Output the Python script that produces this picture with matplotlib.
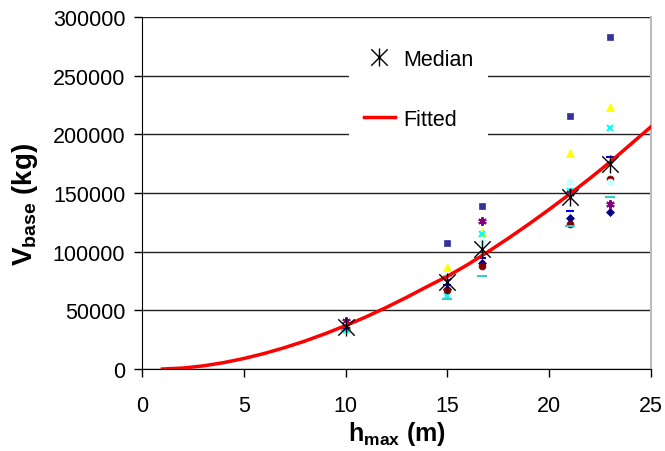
import numpy as np
import matplotlib
matplotlib.use("Agg")
import matplotlib.pyplot as plt
from matplotlib.path import Path

plt.rcParams['font.family'] = ['Liberation Sans', 'DejaVu Sans']
plt.rcParams['mathtext.fontset'] = 'custom'
plt.rcParams['mathtext.rm'] = 'Liberation Sans'
plt.rcParams['mathtext.bf'] = 'Liberation Sans:bold'

# heights where the buildings were evaluated
h_max = [10, 15, 16.7, 21, 23]

# individual records (one list per series)
navy_diamond = [35000, 68000, 90000, 129000, 134000]
blue_square = [37000, 107000, 139000, 216000, 283000]
yellow_tri = [38000, 87000, 117000, 184000, 223000]
cyan_x = [33000, 62000, 115000, 152000, 205000]
purple_star = [41000, 78000, 126000, 150000, 141000]
brown_circle = [36000, 67000, 88000, 124000, 162000]
pale_circle = [37000, 80000, 108000, 159000, 159000]
blue_dash = [35000, 72000, 95000, 135000, 181000]
cyan_dash = [33000, 60000, 79000, 122000, 147000]

median = [35500, 74000, 102000, 147000, 175000]

# fitted curve
fit_h = [1, 2, 3, 4, 5, 6, 7, 8, 9, 10, 11, 12, 13, 14, 15, 16, 17, 18, 19,
         20, 21, 22, 23, 24, 25]
fit_v = [0, 790, 2660, 5400, 8940, 13200, 18200, 23800, 30100, 37000, 44400,
         52500, 61100, 70200, 79000, 89000, 100000, 111500, 123500, 136000,
         149000, 162500, 176500, 191500, 206500]

# asterisk-like marker: X with a vertical bar
star_path = Path([(-1, -1), (1, 1), (-1, 1), (1, -1), (0, -1.1), (0, 1.1)],
                 [Path.MOVETO, Path.LINETO, Path.MOVETO, Path.LINETO,
                  Path.MOVETO, Path.LINETO])

fig = plt.figure(figsize=(6.65, 4.52), dpi=100)
ax = fig.add_axes([142/665, 1-370/452, 509/665, 352/452])

series = [
    (navy_diamond, 'D', '#000080', 4),
    (blue_square, 's', '#333399', 5),
    (yellow_tri, '^', '#FFFF00', 6),
    (cyan_x, 'x', '#00FFFF', 5),
    (purple_star, (6, 2, 0), '#800080', 6),
    (brown_circle, 'o', '#800000', 5),
    (pale_circle, 'o', '#CCFFFF', 5),
    (blue_dash, '_', '#0000FF', 6),
    (cyan_dash, '_', '#33CCCC', 7),
]
for vals, mk, col, ms in series:
    ax.plot(h_max, vals, linestyle='none', marker=mk, color=col,
            markersize=ms, markeredgewidth=1.5 if mk in ('x', '_', (6, 2, 0)) else 0.5,
            zorder=3)

ax.plot(fit_h, fit_v, color='red', lw=2.5, label='Fitted', zorder=4)
ax.plot(h_max, median, linestyle='none', marker=star_path, color='black',
        markersize=13, markeredgewidth=1.0, label='Median', zorder=5)

ax.set_xlim(0, 25)
ax.set_ylim(0, 300000)
ax.set_xticks(np.arange(0, 26, 5))
ax.set_yticks(np.arange(0, 300001, 50000))
ax.yaxis.grid(True, color='#222222', lw=1.0)
ax.set_axisbelow(True)
ax.tick_params(labelsize=15.5, direction='out', length=6, width=1, color='black')
ax.tick_params(axis='x', pad=13)
ax.tick_params(axis='y', pad=6)
ax.spines['top'].set_visible(False)
ax.spines['right'].set_color('#bbbbbb')
ax.spines['right'].set_linewidth(1.5)

ax.set_xlabel(r'$\mathbf{h_{max}}$ (m)', fontsize=18, fontweight='bold', labelpad=2)
ax.set_ylabel(r'$\mathbf{V_{base}}$ (kg)', fontsize=20, fontweight='bold')
ax.yaxis.set_label_coords(-0.20, 0.47)

h, l = ax.get_legend_handles_labels()
leg = ax.legend(h[::-1], l[::-1], loc='center', bbox_to_anchor=(0.544, 0.795),
                fontsize=15.5, frameon=True, facecolor='white', edgecolor='none',
                framealpha=1, fancybox=False, labelspacing=1.8,
                handlelength=1.4, handletextpad=0.4, borderpad=0.7)
leg.set_zorder(6)

fig.savefig('out.png', dpi=100)
